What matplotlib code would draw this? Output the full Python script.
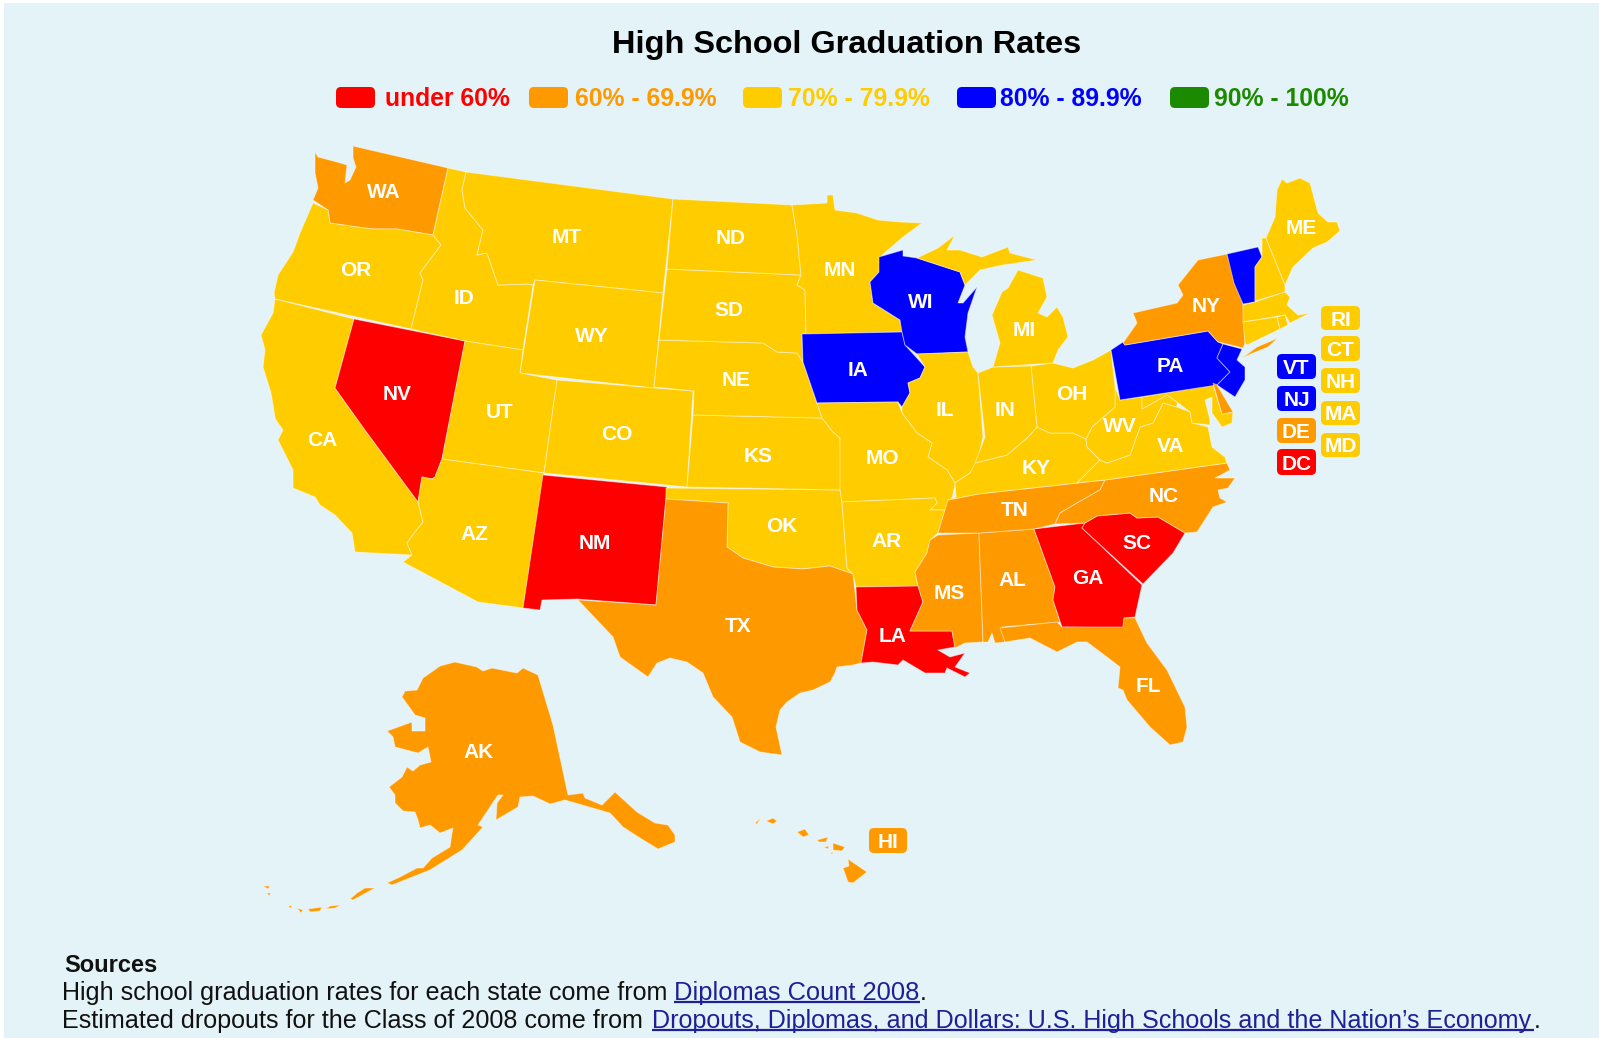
import matplotlib
matplotlib.use("Agg")
import matplotlib.pyplot as plt
from matplotlib.patches import Polygon, FancyBboxPatch, Rectangle

plt.rcParams['font.family'] = ['Liberation Sans', 'DejaVu Sans']

# ---- data ---------------------------------------------------------------
BAND_LABELS = ["under 60%", "60% - 69.9%", "70% - 79.9%", "80% - 89.9%", "90% - 100%"]
BAND_COLORS = ["#FF0000", "#FF9900", "#FFCC00", "#0000FF", "#1C8A00"]
UNDER_60 = ["NV", "NM", "LA", "GA", "SC", "DC"]
FROM_60 = ["WA", "NY", "TX", "TN", "NC", "MS", "AL", "FL", "AK", "HI", "DE"]
FROM_80 = ["WI", "IA", "PA", "NJ", "VT"]
FROM_70 = ["OR", "CA", "ID", "MT", "WY", "UT", "CO", "AZ", "ND", "SD", "NE", "KS", "OK", "MN",
           "MO", "AR", "IL", "MI", "IN", "OH", "KY", "VA", "WV", "ME", "NH", "MA", "CT", "RI", "MD"]

# state outlines (map units)
WA = [(315,152),(318,157),(337,162),(347,165),(345,183),(350,180),(356,167),(353,158),(353,146),(448,168),(433,235),(397,229),(373,229),(357,227),(330,223),(328,210),(313,200),(318,188),(315,173)]
OR = [(313,203),(328,210),(330,223),(357,227),(373,229),(397,229),(433,235),(441,245),(420,273),(423,280),(411,329),(275,299),(274,293),(278,275),(293,252),(300,233)]
CA = [(275,299),(354,319),(335,388),(365,430),(418,502),(423,522),(415,532),(407,543),(412,555),(355,552),(352,533),(335,515),(320,505),(315,497),(293,488),(293,470),(278,440),(283,430),(276,420),(275,417),(271,393),(263,367),(265,350),(261,335),(273,313)]
NV = [(354,319),(465,341),(442,459),(435,477),(432,479),(422,477),(418,502),(365,430),(335,388)]
ID = [(448,168),(466,172),(462,190),(465,208),(483,230),(477,255),(487,253),(498,285),(528,284),(533,285),(523,350),(465,341),(411,329),(423,280),(420,273),(441,245),(433,235)]
MT = [(466,172),(673,199),(663,293),(535,280),(533,285),(528,284),(498,285),(487,253),(477,255),(483,230),(465,208),(462,190)]
WY = [(535,280),(663,293),(654,388),(520,373)]
UT = [(465,341),(523,350),(520,373),(557,380),(544,473),(442,459)]
CO = [(557,380),(654,388),(693,391),(687,487),(544,473)]
AZ = [(442,459),(544,473),(523,608),(478,602),(403,562),(412,555),(407,543),(415,532),(423,522),(418,502),(422,477),(432,479),(435,477)]
NM = [(543,475),(667,487),(656,605),(577,599),(542,600),(540,610),(523,608)]
TX = [(666,499),(728,503),(727,547),(743,558),(773,567),(803,569),(830,566),(853,574),(857,610),(867,630),(861,663),(853,665),(837,667),(835,673),(830,682),(813,690),(800,693),(787,702),(780,710),(776,727),(782,755),(760,752),(740,742),(732,717),(713,697),(703,673),(687,662),(670,658),(657,663),(648,677),(620,657),(613,637),(578,600),(656,605)]
OK = [(666,488),(840,490),(842,502),(847,568),(853,574),(830,566),(803,569),(773,567),(743,558),(727,547),(728,503),(666,499)]
KS = [(693,415),(822,418),(833,432),(840,438),(842,490),(687,487)]
NE = [(659,340),(763,343),(777,352),(797,353),(803,362),(817,403),(822,418),(693,415),(694,391),(654,387)]
SD = [(667,269),(801,275),(797,285),(805,290),(806,333),(802,337),(803,362),(797,353),(777,352),(763,343),(659,340)]
ND = [(673,199),(792,205),(797,235),(801,275),(667,269)]
MN = [(792,205),(827,203),(827,195),(833,195),(835,210),(857,213),(878,220),(900,222),(922,223),(903,237),(882,255),(879,272),(870,282),(873,303),(900,320),(903,332),(802,334),(806,333),(805,290),(797,285),(801,275),(797,235)]
IA = [(802,334),(902,332),(905,345),(925,367),(920,378),(908,383),(910,393),(902,407),(898,402),(817,403),(803,362)]
WI = [(879,257),(903,250),(903,256),(917,258),(960,272),(965,285),(958,303),(963,303),(977,287),(968,313),(965,337),(968,352),(917,354),(905,345),(902,332),(900,320),(873,303),(870,282),(879,272)]
IL = [(917,354),(968,352),(973,367),(978,373),(983,437),(977,463),(970,473),(955,483),(947,470),(928,457),(932,443),(917,433),(902,413),(902,407),(910,393),(908,383),(920,378),(925,367)]
MO = [(817,403),(898,402),(902,413),(917,433),(932,443),(928,457),(947,470),(955,483),(955,485),(952,498),(946,510),(930,510),(937,503),(935,498),(842,502),(840,490),(840,438),(833,432),(822,418)]
AR = [(842,502),(935,498),(937,503),(930,510),(945,510),(938,533),(930,540),(927,553),(915,572),(918,586),(856,587),(853,574),(847,568)]
LA = [(856,587),(918,586),(923,602),(910,631),(952,631),(955,647),(938,650),(950,657),(965,653),(955,667),(970,673),(965,677),(947,668),(945,673),(925,673),(903,660),(898,665),(873,662),(861,663),(867,630),(857,610)]
MS = [(938,535),(979,533),(983,642),(965,643),(955,648),(952,631),(910,631),(923,602),(918,586),(915,572),(927,553),(930,540)]
AL = [(979,533),(1034,529),(1055,587),(1053,600),(1060,622),(1002,627),(1005,642),(995,643),(992,633),(988,642),(983,642)]
GA = [(1034,529),(1085,523),(1082,528),(1142,585),(1135,617),(1124,618),(1123,628),(1062,627),(1053,600),(1055,587)]
SC = [(1085,523),(1097,516),(1130,513),(1137,518),(1158,517),(1185,533),(1173,553),(1143,584),(1082,528)]
FL = [(1000,628),(1057,622),(1062,627),(1123,627),(1124,618),(1135,618),(1147,643),(1167,670),(1185,707),(1187,727),(1183,742),(1170,745),(1150,727),(1127,700),(1123,690),(1118,688),(1120,667),(1107,657),(1087,642),(1077,642),(1057,652),(1030,638),(1005,642)]
TN = [(948,500),(978,494),(1105,480),(1100,490),(1077,503),(1060,513),(1055,524),(1034,529),(980,533),(938,533)]
NC = [(1105,480),(1227,463),(1230,470),(1215,478),(1235,478),(1228,488),(1218,490),(1220,498),(1227,502),(1213,507),(1197,532),(1185,533),(1158,517),(1137,518),(1130,513),(1097,516),(1085,523),(1055,524),(1060,513),(1077,503),(1100,490)]
KY = [(955,483),(970,473),(975,463),(1007,455),(1027,438),(1037,427),(1050,433),(1073,433),(1086,439),(1087,447),(1100,460),(1077,483),(978,494),(948,500),(956,497)]
VA = [(1077,483),(1100,460),(1107,463),(1130,455),(1140,427),(1153,423),(1163,403),(1177,407),(1190,412),(1192,423),(1208,427),(1212,447),(1225,457),(1227,463),(1105,480)]
WV = [(1086,439),(1092,427),(1115,407),(1115,387),(1120,400),(1142,397),(1142,409),(1167,395),(1177,402),(1177,407),(1163,403),(1153,423),(1140,427),(1130,455),(1107,463),(1100,460),(1087,447)]
OH = [(1031,366),(1053,363),(1073,368),(1093,360),(1111,350),(1115,387),(1115,407),(1092,427),(1086,439),(1073,433),(1050,433),(1037,427)]
IN = [(978,373),(993,367),(1031,366),(1037,427),(1027,438),(1007,455),(975,463),(985,437)]
MI_LOWER = [(993,367),(1000,343),(992,315),(1002,292),(1008,288),(1018,270),(1043,278),(1047,297),(1038,313),(1047,317),(1057,307),(1063,317),(1068,337),(1058,350),(1053,363)]
MI_UPPER = [(917,258),(938,248),(955,235),(947,250),(960,250),(982,257),(1008,247),(1010,253),(1037,260),(1003,265),(980,270),(965,285),(960,272)]
PA = [(1111,350),(1123,342),(1125,345),(1208,331),(1218,342),(1223,344),(1217,358),(1230,372),(1217,385),(1120,400)]
NY = [(1123,343),(1137,323),(1133,313),(1177,303),(1183,295),(1178,285),(1198,260),(1227,254),(1243,304),(1245,343),(1243,348),(1223,343),(1218,342),(1208,331),(1125,345)]
NY_LI = [(1242,358),(1257,347),(1278,338),(1268,347),(1253,353)]
NJ = [(1223,344),(1242,349),(1237,360),(1245,367),(1245,380),(1235,397),(1220,387),(1217,385),(1230,372),(1217,358)]
DE = [(1213,383),(1217,385),(1233,412),(1222,414)]
MD = [(1142,397),(1213,385),(1222,414),(1233,412),(1232,423),(1222,427),(1212,413),(1212,397),(1205,400),(1210,420),(1210,425),(1192,423),(1190,412),(1177,402),(1167,395),(1142,409)]
VT = [(1227,254),(1258,247),(1262,257),(1255,267),(1255,302),(1243,304),(1234,283)]
NH = [(1262,238),(1266,238),(1285,285),(1285,292),(1255,301),(1255,267),(1262,257)]
ME = [(1266,238),(1275,217),(1277,190),(1282,179),(1287,183),(1300,178),(1310,183),(1318,213),(1328,222),(1337,222),(1340,231),(1327,242),(1313,248),(1293,267),(1285,285)]
MA = [(1243,305),(1255,302),(1285,292),(1290,297),(1287,305),(1298,315),(1310,313),(1300,318),(1290,323),(1285,315),(1243,322)]
CT = [(1243,322),(1277,317),(1280,329),(1247,345),(1245,343)]
RI = [(1277,317),(1285,315),(1288,325),(1280,329)]
AK = [(455,662),(477,667),(483,671),(492,668),(517,673),(523,668),(538,675),(553,725),(568,795),(583,793),(585,798),(602,805),(615,792),(637,812),(655,823),(668,825),(675,835),(675,842),(658,849),(640,838),(623,827),(610,813),(565,800),(550,804),(533,796),(520,797),(518,807),(496,820),(497,803),(503,795),(498,795),(478,825),(483,827),(462,850),(430,870),(392,885),(387,883),(400,877),(417,868),(423,868),(432,858),(450,847),(452,833),(453,828),(440,833),(430,825),(420,828),(418,820),(415,812),(403,811),(395,803),(395,795),(389,787),(402,777),(407,767),(413,771),(420,765),(431,762),(428,747),(418,753),(395,747),(393,737),(387,731),(412,722),(412,731),(425,731),(425,718),(415,715),(402,697),(405,691),(417,690),(423,678),(440,666)]
AK_ISLE1 = [(375,888),(365,888),(357,893),(350,899),(353,900),(364,894)]
AK_ISLE2 = [(341,905),(330,906),(326,909),(335,908)]
AK_ISLE3 = [(308,909),(322,907),(320,911),(310,912)]
AK_ISLE4 = [(297,908),(303,910),(301,913)]
AK_ISLE5 = [(288,907),(291,905),(292,908)]
AK_ISLE6 = [(263,886),(270,886),(268,889)]
AK_ISLE7 = [(267,893),(271,893),(269,896)]
HI_BIG = [(848,859),(867,872),(853,883),(848,882),(843,868),(849,866)]
HI_MAUI = [(833,843),(845,847),(842,851),(833,850)]
HI_MOLOKAI = [(817,840),(828,837),(826,842),(819,842)]
HI_LANAI = [(824,847),(829,846),(828,849)]
HI_KAHO = [(830,853),(834,852),(832,854)]
HI_OAHU = [(797,832),(805,829),(809,835),(803,837)]
HI_KAUAI = [(766,821),(773,818),(777,821),(773,824)]
HI_NIIHAU = [(755,823),(761,818),(757,824)]

SHAPES = [("WA",WA),("OR",OR),("CA",CA),("NV",NV),("ID",ID),("MT",MT),("WY",WY),("UT",UT),("CO",CO),("AZ",AZ),("NM",NM),
          ("OK",OK),("TX",TX),("KS",KS),("NE",NE),("SD",SD),("ND",ND),("MN",MN),("IA",IA),("WI",WI),("IL",IL),("MO",MO),
          ("AR",AR),("LA",LA),("MS",MS),("AL",AL),("GA",GA),("FL",FL),("SC",SC),("TN",TN),("NC",NC),("KY",KY),("VA",VA),
          ("WV",WV),("OH",OH),("IN",IN),("MI",MI_LOWER),("MI",MI_UPPER),("MD",MD),("PA",PA),("NY",NY),("NY",NY_LI),("NJ",NJ),("DE",DE),
          ("VT",VT),("NH",NH),("ME",ME),("MA",MA),("CT",CT),("RI",RI),("AK",AK),("AK",AK_ISLE1),("AK",AK_ISLE2),("AK",AK_ISLE3),
          ("AK",AK_ISLE4),("AK",AK_ISLE5),("AK",AK_ISLE6),("AK",AK_ISLE7),("HI",HI_BIG),("HI",HI_MAUI),("HI",HI_MOLOKAI),
          ("HI",HI_LANAI),("HI",HI_KAHO),("HI",HI_OAHU),("HI",HI_KAUAI),("HI",HI_NIIHAU)]

MAP_LABELS = ["WA","OR","CA","NV","ID","MT","WY","UT","CO","AZ","NM","ND","SD","NE","KS","OK","TX","MN","IA","MO","AR","LA","WI","IL","MI","IN","OH","KY","TN","MS","AL","GA","SC","NC","VA","WV","PA","NY","ME","FL","AK"]
MAP_LABEL_X = [383.5,356,322,397,464,567,591.5,500,617,474,594.5,731,729,736,758,782,738,840,858,882,887,893,921,945,1024,1005.5,1072,1036,1015,949,1012,1088,1137,1164,1171,1120,1170,1206,1301,1148,479]
MAP_LABEL_Y = [191,268,438.5,392,297,235.5,334.5,410,432.5,532,541.5,236.5,308,379,454,525,624,268,368,457,539.5,634,300,409,328,409,393,467,508,591.5,579,577,541.5,494.5,444.6,425,364,305,226,684,750.6]

BADGE_LABELS = ["VT","NJ","DE","DC","RI","CT","NH","MA","MD","HI"]
BADGE_X0 = [1277,1277,1277,1277,1321,1321,1321,1321,1321,869]
BADGE_X1 = [1316,1316,1316,1316,1360,1360,1360,1360,1360,907]
BADGE_Y0 = [354,386,418,449,306,336,368,401,433,828]
BADGE_Y1 = [379,411,443,475,330,361,393,425,457,853]

LEGEND_SWATCH_X = [336,529,743,957,1170]
LEGEND_TEXT_X = [385,575,788,1000,1214]

BG = "#E4F3F7"
LINK = "#1F1F96"
INK = "#111111"


def band_color(abbr):
    for names, color in zip([UNDER_60, FROM_60, FROM_70, FROM_80], BAND_COLORS):
        if abbr in names:
            return color
    return BAND_COLORS[4]


fig = plt.figure(figsize=(15.99, 10.38), dpi=100, facecolor="white")
ax = fig.add_axes([0, 0, 1, 1])
ax.set_xlim(0, 1599)
ax.set_ylim(1038, 0)
ax.axis("off")
ax.add_patch(Rectangle((4, 3), 1595, 1035, facecolor=BG, edgecolor="none", zorder=0))

ax.text(847, 45, "High School Graduation Rates", ha="center", va="center",
        fontsize=23.4, fontweight="bold", color="#000000")

for x, tx, label, color in zip(LEGEND_SWATCH_X, LEGEND_TEXT_X, BAND_LABELS, BAND_COLORS):
    ax.add_patch(FancyBboxPatch((x, 87), 39, 21, boxstyle="round,pad=0,rounding_size=5",
                                facecolor=color, edgecolor="none", zorder=2))
    ax.text(tx, 98.5, label, ha="left", va="center", fontsize=17.8, fontweight="bold", color=color)

for abbr, pts in SHAPES:
    ax.add_patch(Polygon(pts, closed=True, facecolor=band_color(abbr),
                         edgecolor=(1, 1, 1, 0.45), linewidth=0.7, joinstyle="round", zorder=3))

for name, x, y in zip(MAP_LABELS, MAP_LABEL_X, MAP_LABEL_Y):
    ax.text(x, y, name, ha="center", va="center_baseline", fontsize=15, fontweight="bold",
            color="white", zorder=5)

for name, x0, x1, y0, y1 in zip(BADGE_LABELS, BADGE_X0, BADGE_X1, BADGE_Y0, BADGE_Y1):
    ax.add_patch(FancyBboxPatch((x0, y0), x1 - x0, y1 - y0, boxstyle="round,pad=0,rounding_size=5",
                                facecolor=band_color(name), edgecolor="none", zorder=4))
    ax.text((x0 + x1) / 2, (y0 + y1) / 2, name, ha="center", va="center_baseline", fontsize=15,
            fontweight="bold", color="white", zorder=5)

ax.text(64, 962.5, "Sources", ha="left", va="center_baseline", fontsize=17, fontweight="bold", color=INK)
ax.text(62, 990.5, "High school graduation rates for each state come from ", ha="left",
        va="center_baseline", fontsize=18.1, color=INK)
ax.text(674, 990.5, "Diplomas Count 2008", ha="left", va="center_baseline", fontsize=18.4, color=LINK)
ax.plot([674, 920], [1002, 1002], color=LINK, lw=1.6, solid_capstyle="butt", zorder=3)
ax.text(920, 990.5, ".", ha="left", va="center_baseline", fontsize=18.1, color=INK)
ax.text(62, 1018.5, "Estimated dropouts for the Class of 2008 come from ", ha="left",
        va="center_baseline", fontsize=18.1, color=INK)
ax.text(652, 1018.5, "Dropouts, Diplomas, and Dollars: U.S. High Schools and the Nation\u2019s Economy",
        ha="left", va="center_baseline", fontsize=18.1, color=LINK)
ax.plot([652, 1534], [1030, 1030], color=LINK, lw=1.6, solid_capstyle="butt", zorder=3)
ax.text(1534, 1018.5, ".", ha="left", va="center_baseline", fontsize=18.1, color=INK)

fig.savefig("out.png", dpi=100, facecolor="white")
